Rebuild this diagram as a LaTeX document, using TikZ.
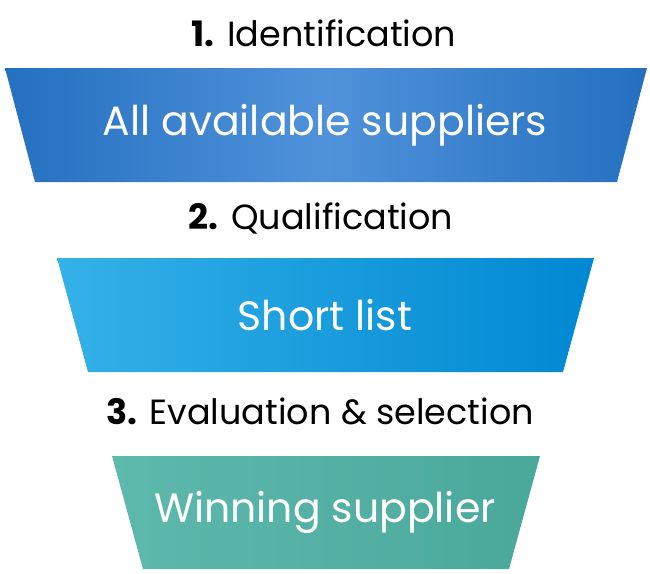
\documentclass[tikz,border=0pt]{standalone}
\usepackage{fontspec}
\setmainfont{Poppins}
\usepackage{tikz}
\usetikzlibrary{positioning}
\definecolor{topedge}{RGB}{36,112,192}
\definecolor{topmid}{RGB}{80,146,218}
\definecolor{midleft}{RGB}{52,177,232}
\definecolor{midright}{RGB}{0,136,210}
\definecolor{lowleft}{RGB}{94,185,173}
\definecolor{lowright}{RGB}{74,168,155}
\tikzset{
  funneltext/.style={text=white, inner sep=0pt, font=\fontsize{41}{47}\selectfont},
  stagelabel/.style={font=\fontsize{35}{40}\selectfont, inner sep=0pt}
}
\begin{document}
\begin{tikzpicture}[x=1pt, y=-1pt]
  \useasboundingbox (0,0) rectangle (650,573);
  % funnel stages
  \shade[left color=topedge, right color=topedge, middle color=topmid]
    (5,68) -- (647,68) -- (617,182) -- (35,182) -- cycle;
  \node[funneltext] (allsup) at (325,125) {All available suppliers};
  \shade[left color=midleft, right color=midright]
    (57,258) -- (594,258) -- (563,372) -- (88,372) -- cycle;
  \node[funneltext] (short) at (325,315) {Short list};
  \shade[left color=lowleft, right color=lowright]
    (112,456) -- (540,456) -- (509,569) -- (143,569) -- cycle;
  \node[funneltext] (winner) at (325,512) {Winning supplier};
  % stage labels
  \node[stagelabel] (ident) at (324,33) {\textbf{1.} Identification};
  \node[stagelabel] (qual) at (321,218) {\textbf{2.} Qualification};
  \node[stagelabel] (evalsel) at (320,411) {\textbf{3.} Evaluation \& selection};
\end{tikzpicture}
\end{document}
